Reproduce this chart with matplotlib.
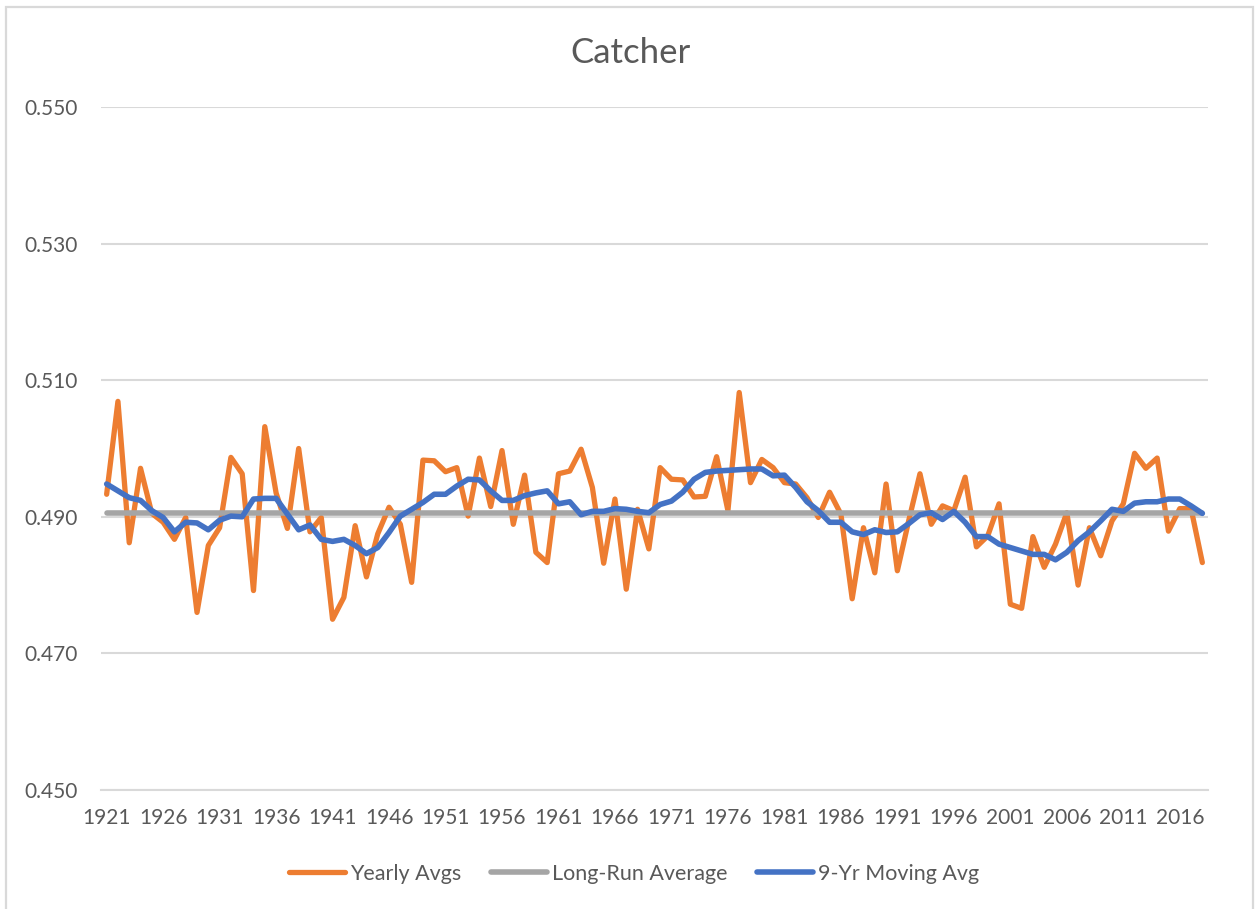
import matplotlib
matplotlib.use("Agg")
import matplotlib.pyplot as plt
from matplotlib.patches import Rectangle

# Data
years = list(range(1921, 2019))
yearly_avgs = [
    0.4933, 0.5069, 0.4862, 0.4971, 0.4905, 0.4892, 0.4867, 0.4899, 0.4760, 0.4858,
    0.4884, 0.4987, 0.4963, 0.4792, 0.5032, 0.4935, 0.4883, 0.5000, 0.4878, 0.4899,
    0.4750, 0.4782, 0.4887, 0.4812, 0.4875, 0.4914, 0.4889, 0.4804, 0.4983, 0.4982,
    0.4966, 0.4972, 0.4901, 0.4986, 0.4915, 0.4997, 0.4889, 0.4961, 0.4848, 0.4833,
    0.4963, 0.4967, 0.4999, 0.4943, 0.4832, 0.4926, 0.4794, 0.4911, 0.4853, 0.4972,
    0.4955, 0.4954, 0.4929, 0.4930, 0.4988, 0.4909, 0.5082, 0.4950, 0.4984, 0.4972,
    0.4950, 0.4948, 0.4928, 0.4899, 0.4936, 0.4904, 0.4780, 0.4884, 0.4818, 0.4948,
    0.4821, 0.4894, 0.4963, 0.4889, 0.4916, 0.4909, 0.4958, 0.4856, 0.4872, 0.4919,
    0.4772, 0.4766, 0.4871, 0.4826, 0.4860, 0.4906, 0.4800, 0.4884, 0.4843, 0.4894,
    0.4919, 0.4993, 0.4971, 0.4986, 0.4879, 0.4912, 0.4912, 0.4833,
]
long_run_average = [0.4905] * len(years)
moving_avg_9yr = [
    0.4948, 0.4938, 0.4928, 0.4924, 0.4909, 0.4899, 0.4878, 0.4892, 0.4891, 0.4881,
    0.4895, 0.4901, 0.4900, 0.4926, 0.4927, 0.4927, 0.4904, 0.4881, 0.4888, 0.4867,
    0.4864, 0.4867, 0.4858, 0.4846, 0.4855, 0.4877, 0.4901, 0.4911, 0.4921, 0.4933,
    0.4933, 0.4945, 0.4955, 0.4954, 0.4938, 0.4924, 0.4924, 0.4931, 0.4935, 0.4938,
    0.4919, 0.4922, 0.4903, 0.4908, 0.4908, 0.4912, 0.4911, 0.4908, 0.4906, 0.4918,
    0.4923, 0.4936, 0.4955, 0.4965, 0.4967, 0.4968, 0.4969, 0.4970, 0.4970, 0.4960,
    0.4961, 0.4943, 0.4922, 0.4909, 0.4892, 0.4892, 0.4878, 0.4874, 0.4881, 0.4877,
    0.4878, 0.4890, 0.4903, 0.4906, 0.4896, 0.4908, 0.4892, 0.4871, 0.4871, 0.4860,
    0.4855, 0.4850, 0.4845, 0.4845, 0.4837, 0.4848, 0.4865, 0.4878, 0.4894, 0.4911,
    0.4908, 0.4920, 0.4922, 0.4922, 0.4926, 0.4926, 0.4916, 0.4905,
]
tick_years = years[::5]
y_ticks = [0.450, 0.470, 0.490, 0.510, 0.530, 0.550]

TEXT = "#595959"
GRID = "#D9D9D9"
plt.rcParams["font.family"] = ["Lato", "DejaVu Sans"]

W, H = 1256, 909
fig = plt.figure(figsize=(W / 100, H / 100), dpi=100)
fig.patch.set_facecolor("white")

# chart border
fig.patches.append(Rectangle((6 / W, -0.05), (1253 - 6) / W, (H - 7) / H + 0.05,
                             transform=fig.transFigure, fill=False,
                             edgecolor=GRID, linewidth=1.6))

ax = fig.add_axes([101 / W, 1 - 790 / H, (1208 - 101) / W, (790 - 107) / H])
x = list(range(len(years)))

ax.plot(x, yearly_avgs, color="#ED7D31", lw=3.8, label="Yearly Avgs",
        solid_capstyle="round", solid_joinstyle="round", zorder=3)
ax.plot(x, long_run_average, color="#A5A5A5", lw=4.0, label="Long-Run Average",
        solid_capstyle="round", zorder=4)
ax.plot(x, moving_avg_9yr, color="#4472C4", lw=4.0, label="9-Yr Moving Avg",
        solid_capstyle="round", solid_joinstyle="round", zorder=5)

ax.set_xlim(-0.5, len(years) - 0.5)
ax.set_ylim(0.450, 0.550)
ax.set_yticks(y_ticks)
ax.set_yticklabels([f"{v:.3f}" for v in y_ticks])
ax.set_xticks(x[::5])
ax.set_xticklabels([str(y) for y in tick_years])
ax.grid(axis="y", color=GRID, lw=1.5)
ax.set_axisbelow(True)
for s in ["top", "right", "left"]:
    ax.spines[s].set_visible(False)
ax.spines["bottom"].set_color(GRID)
ax.spines["bottom"].set_linewidth(1.5)
ax.tick_params(axis="both", length=0, labelsize=15, colors=TEXT)
ax.tick_params(axis="y", pad=17)
ax.tick_params(axis="x", pad=13)

fig.text(631 / W, 1 - 53 / H, "Catcher", ha="center", va="center",
         fontsize=25, color=TEXT)

leg = fig.legend(loc="center", bbox_to_anchor=(634 / W, 1 - 874 / H), ncol=3,
                 frameon=False, fontsize=15.5, handlelength=2.6,
                 handletextpad=0.25, columnspacing=1.35)
for t in leg.get_texts():
    t.set_color(TEXT)

fig.savefig("out.png", dpi=100, facecolor="white")
